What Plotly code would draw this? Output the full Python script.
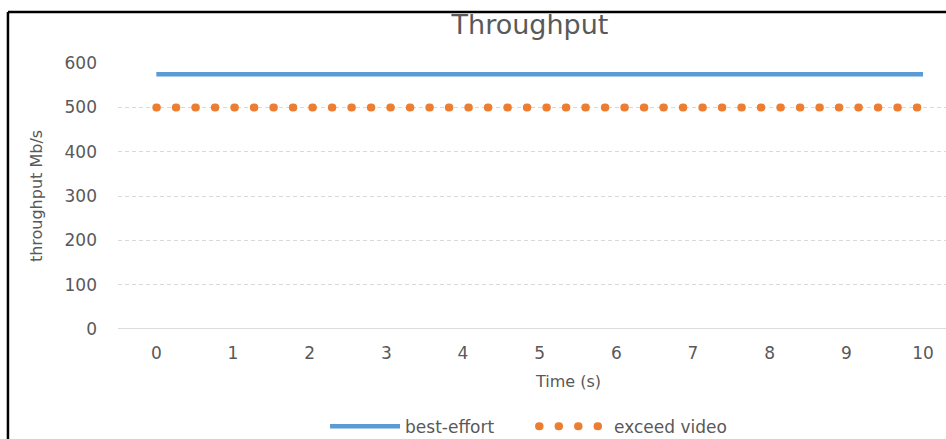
import plotly.graph_objects as go

# Throughput of two traffic classes over a 10 s run
time_s = [0, 1, 2, 3, 4, 5, 6, 7, 8, 9, 10]
best_effort = [575, 575, 575, 575, 575, 575, 575, 575, 575, 575, 575]
exceed_video = [500, 500, 500, 500, 500, 500, 500, 500, 500, 500, 500]
y_ticks = [0, 100, 200, 300, 400, 500, 600]

FONT = "DejaVu Sans"
TEXT = "#595959"
GRID = "#d9d9d9"

fig = go.Figure()
fig.add_trace(go.Scatter(
    x=time_s, y=best_effort, name="best-effort", mode="lines",
    line=dict(color="#5b9bd5", width=4.5),
))
fig.add_trace(go.Scatter(
    x=time_s, y=exceed_video, name="exceed video", mode="lines",
    line=dict(color="#ed7d31", width=8, dash="0.5px,19px"),
))

fig.update_layout(
    width=946, height=439,
    margin=dict(l=118, r=0, t=63, b=110),
    plot_bgcolor="white", paper_bgcolor="white",
    font=dict(family=FONT, color=TEXT, size=15),
    title=dict(text="Throughput", x=0.4976, xref="paper", xanchor="center",
               y=0.945, yanchor="middle",
               font=dict(size=27, color=TEXT, family=FONT)),
    showlegend=True,
    legend=dict(orientation="h", xref="container", x=0.3436, xanchor="left",
                yref="container", y=0.028, yanchor="middle",
                font=dict(size=17, color=TEXT),
                itemwidth=70, entrywidth=124, entrywidthmode="pixels",
                traceorder="normal"),
    xaxis=dict(
        range=[-0.5, 10.3], tickmode="array", tickvals=time_s,
        ticktext=[str(t) for t in time_s], showgrid=False, zeroline=False,
        showline=False, ticks="", ticklabelstandoff=12,
        tickfont=dict(size=17, color=TEXT),
    ),
    yaxis=dict(
        range=[0, 600.5], tickmode="array", tickvals=y_ticks,
        showgrid=True, gridcolor=GRID, griddash="4px,3px", gridwidth=1,
        zeroline=False, showline=False, ticks="", ticklabelstandoff=20,
        tickfont=dict(size=17, color=TEXT),
        title=dict(text="throughput Mb/s", font=dict(size=16, color=TEXT), standoff=17),
    ),
    annotations=[dict(
        text="Time (s)", xref="paper", yref="paper", x=0.5435, y=-0.196,
        showarrow=False, font=dict(size=16, color=TEXT),
        xanchor="center", yanchor="middle",
    )],
    shapes=[
        # solid baseline at zero
        dict(type="line", xref="paper", yref="y", x0=0, x1=1, y0=0, y1=0,
             line=dict(color="#d0d0d0", width=1.5), layer="below"),
        # black frame around the chart (top and left edges)
        dict(type="line", xref="paper", yref="paper", x0=-0.1329, x1=1.1,
             y0=1.1917, y1=1.1917, line=dict(color="black", width=2.5)),
        dict(type="line", xref="paper", yref="paper", x0=-0.1329, x1=-0.1329,
             y0=1.1917, y1=-0.6, line=dict(color="black", width=2.5)),
    ],
)

# round the dash ends of the dotted series so each dash renders as a dot
round_caps = """
var gd = document.getElementById('{plot_id}');
var paths = gd.querySelectorAll('.scatterlayer .trace:nth-child(2) path.js-line, .legend .traces:nth-child(2) path.js-line');
paths.forEach(function(p){ p.style.strokeLinecap = 'round'; });
"""
fig.write_html("out.html", post_script=round_caps)
